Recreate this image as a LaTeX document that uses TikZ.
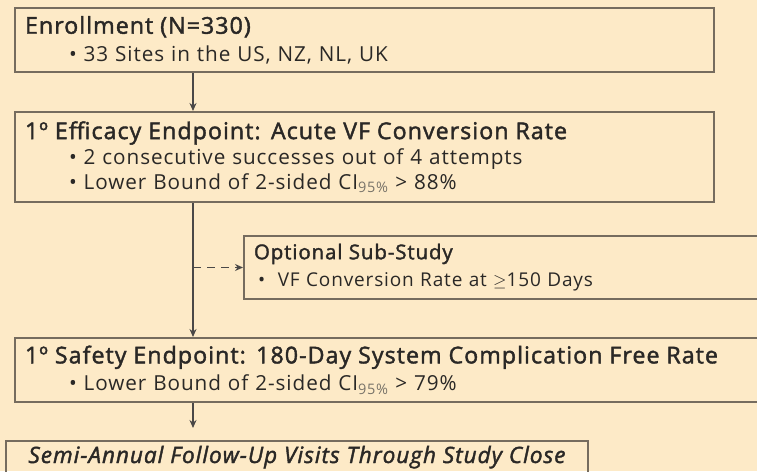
\documentclass[tikz,border=0pt]{standalone}
\usepackage{fontspec}
\setmainfont[LetterSpace=4.5]{Open Sans}
\newfontfamily\headfont[FakeBold=1.8,LetterSpace=4.5]{Open Sans}
\usetikzlibrary{arrows.meta,positioning}
\definecolor{paper}{RGB}{253,234,199}
\definecolor{frame}{RGB}{118,108,94}
\definecolor{ink}{RGB}{42,40,38}
\definecolor{subink}{RGB}{120,115,105}
\tikzset{box/.style={rectangle,draw=frame,line width=2pt,anchor=north west,inner xsep=10pt,inner ysep=0pt,align=left,text=ink,font=\fontsize{20.7}{24.5}\selectfont},
		post/.style={-{Stealth[length=8pt,width=7pt]},line width=1.9pt,draw=ink!85}}
\newcommand{\hd}[1]{{\headfont\fontsize{23.2}{26}\selectfont #1}}
\newcommand{\itm}[1]{\hspace*{44pt}\textbullet\ #1}
\newcommand{\ci}{CI\textsubscript{\color{subink}95\%}}

\begin{document}
\begin{tikzpicture}[x=1pt,y=-1pt]
	\fill[paper] (0,0) rectangle (757,471);
	\clip (0,0) rectangle (757,471);
	\useasboundingbox (0,0) rectangle (757,471);
	\coordinate (trunk) at (193,0);
	\node[box,minimum width=699,minimum height=64,text width=679] (enroll) at (14,7) {\hd{Enrollment (N=330)}\\[3pt]
		\itm{33 Sites in the US, NZ, NL, UK}};
	\node[box,minimum width=699,minimum height=90,text width=679] (efficacy) at (14,111) {\hd{1º Efficacy Endpoint: Acute VF Conversion Rate}\\[1pt]
		\itm{2 consecutive successes out of 4 attempts}\\
		\itm{Lower Bound of 2-sided \ci{} > 88\%}};
	\node[box,minimum width=540,minimum height=63,text width=520,font=\fontsize{19}{24.5}\selectfont] (substudy) at (243,235) {{\headfont\fontsize{20.4}{26}\selectfont Optional Sub-Study}\\[3pt]
		\hspace*{4pt}\textbullet\ \ VF Conversion Rate at $\geq$150 Days};
	\node[box,minimum width=770,minimum height=64,text width=750] (safety) at (14,337) {\hd{1º Safety Endpoint: 180-Day System Complication Free Rate}\\[3pt]
		\itm{Lower Bound of 2-sided \ci{} > 79\%}};
	\node[box,minimum width=582,text height=19,text depth=30,inner ysep=3pt,text width=562,align=center] (followup) at (5,440) {{\headfont\itshape\fontsize{22.5}{26}\selectfont Semi-Annual Follow-Up Visits Through Study Close}};

	\draw[post] (enroll.south -| trunk) -- (efficacy.north -| trunk);
	\draw[post] (efficacy.south -| trunk) -- (safety.north -| trunk);
	\draw[post,dash pattern=on 8pt off 6pt] (substudy.west -| trunk) -- (substudy.west);
	\draw[post] (safety.south -| trunk) -- ([yshift=12pt]followup.north -| trunk);
\end{tikzpicture}
\end{document}
